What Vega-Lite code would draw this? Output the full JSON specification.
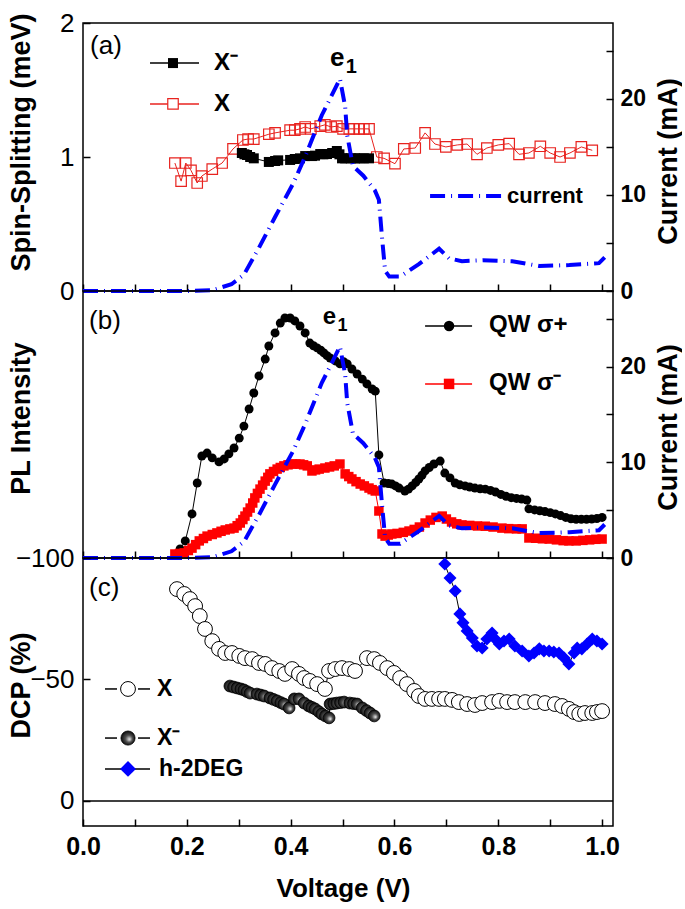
{
  "$schema": "https://vega.github.io/schema/vega-lite/v6.json",
  "background": "white",
  "padding": {"left": 6, "top": 9, "right": 0, "bottom": 5},
  "bounds": "flush",
  "spacing": 0,
  "config": {
    "font": "Liberation Sans",
    "view": {"stroke": "#000", "strokeWidth": 1.5},
    "axis": {"domain": false, "grid": false, "tickColor": "#000", "tickWidth": 1.5, "labelColor": "#000", "titleColor": "#000", "labelFont": "Liberation Sans", "titleFont": "Liberation Sans", "labelFlush": false, "labelOverlap": false, "labelBound": false},
    "text": {"font": "Liberation Sans", "color": "#000"}
  },
  "resolve": {"scale": {"x": "independent", "y": "independent"}},
  "datasets": {
    "one": [{"k": 1}],
    "cur": [
      {"V": 0, "y": 0}, {"V": 0.1, "y": 0}, {"V": 0.2, "y": 0}, {"V": 0.25, "y": 0.1}, {"V": 0.286, "y": 0.7}, {"V": 0.31, "y": 1.7}, {"V": 0.339, "y": 4.5}, {"V": 0.37, "y": 7.7}, {"V": 0.405, "y": 11.2}, {"V": 0.428, "y": 14.0}, {"V": 0.46, "y": 18.3}, {"V": 0.474, "y": 19.8}, {"V": 0.495, "y": 22.1}, {"V": 0.505, "y": 19.2}, {"V": 0.509, "y": 16.2}, {"V": 0.52, "y": 13.0}, {"V": 0.54, "y": 12.0}, {"V": 0.562, "y": 10.5}, {"V": 0.57, "y": 9.5}, {"V": 0.576, "y": 5.6}, {"V": 0.582, "y": 2.1}, {"V": 0.59, "y": 1.5}, {"V": 0.611, "y": 1.5}, {"V": 0.647, "y": 2.8}, {"V": 0.686, "y": 4.4}, {"V": 0.705, "y": 3.4}, {"V": 0.73, "y": 3.1}, {"V": 0.77, "y": 3.2}, {"V": 0.827, "y": 3.1}, {"V": 0.879, "y": 2.6}, {"V": 0.937, "y": 2.7}, {"V": 0.994, "y": 2.9}, {"V": 1.005, "y": 3.5}
    ],
    "aX": [
      {"V": 0.177, "y": 0.955}, {"V": 0.189, "y": 0.82}, {"V": 0.198, "y": 0.955}, {"V": 0.208, "y": 0.9}, {"V": 0.22, "y": 0.806}, {"V": 0.229, "y": 0.858}, {"V": 0.249, "y": 0.91}, {"V": 0.268, "y": 0.955}, {"V": 0.289, "y": 1.06}, {"V": 0.308, "y": 1.127}, {"V": 0.318, "y": 1.134}, {"V": 0.329, "y": 1.134}, {"V": 0.358, "y": 1.17}, {"V": 0.37, "y": 1.18}, {"V": 0.399, "y": 1.2}, {"V": 0.408, "y": 1.2}, {"V": 0.418, "y": 1.21}, {"V": 0.428, "y": 1.224}, {"V": 0.439, "y": 1.21}, {"V": 0.457, "y": 1.23}, {"V": 0.466, "y": 1.24}, {"V": 0.478, "y": 1.224}, {"V": 0.489, "y": 1.23}, {"V": 0.501, "y": 1.21}, {"V": 0.513, "y": 1.21}, {"V": 0.522, "y": 1.21}, {"V": 0.532, "y": 1.21}, {"V": 0.541, "y": 1.21}, {"V": 0.551, "y": 1.21}, {"V": 0.566, "y": 1.0}, {"V": 0.58, "y": 0.99}, {"V": 0.601, "y": 0.95}, {"V": 0.618, "y": 1.06}, {"V": 0.64, "y": 1.067}, {"V": 0.659, "y": 1.18}, {"V": 0.678, "y": 1.097}, {"V": 0.699, "y": 1.075}, {"V": 0.721, "y": 1.09}, {"V": 0.74, "y": 1.097}, {"V": 0.759, "y": 1.02}, {"V": 0.778, "y": 1.067}, {"V": 0.8, "y": 1.09}, {"V": 0.821, "y": 1.1}, {"V": 0.84, "y": 1.02}, {"V": 0.859, "y": 1.03}, {"V": 0.881, "y": 1.08}, {"V": 0.9, "y": 1.03}, {"V": 0.919, "y": 1.0}, {"V": 0.938, "y": 1.03}, {"V": 0.96, "y": 1.075}, {"V": 0.981, "y": 1.05}
    ],
    "aXm": [
      {"V": 0.306, "y": 1.03}, {"V": 0.311, "y": 1.02}, {"V": 0.316, "y": 1.015}, {"V": 0.322, "y": 1.0}, {"V": 0.329, "y": 0.99}, {"V": 0.358, "y": 0.963}, {"V": 0.37, "y": 0.97}, {"V": 0.376, "y": 0.975}, {"V": 0.399, "y": 0.978}, {"V": 0.408, "y": 0.985}, {"V": 0.418, "y": 0.99}, {"V": 0.428, "y": 1.007}, {"V": 0.441, "y": 1.007}, {"V": 0.447, "y": 1.01}, {"V": 0.457, "y": 1.022}, {"V": 0.463, "y": 1.02}, {"V": 0.47, "y": 1.022}, {"V": 0.48, "y": 1.03}, {"V": 0.489, "y": 1.045}, {"V": 0.494, "y": 1.02}, {"V": 0.499, "y": 0.99}, {"V": 0.505, "y": 0.99}, {"V": 0.516, "y": 0.99}, {"V": 0.524, "y": 0.99}, {"V": 0.532, "y": 0.99}, {"V": 0.541, "y": 0.99}, {"V": 0.551, "y": 0.99}
    ],
    "bP": [
      {"V": 0.187, "y": 3.4}, {"V": 0.197, "y": 6.4}, {"V": 0.21, "y": 16.5}, {"V": 0.22, "y": 28.1}, {"V": 0.229, "y": 38.2}, {"V": 0.239, "y": 39.3}, {"V": 0.249, "y": 37.5}, {"V": 0.262, "y": 36.0}, {"V": 0.272, "y": 37.1}, {"V": 0.281, "y": 39.0}, {"V": 0.291, "y": 41.2}, {"V": 0.301, "y": 44.9}, {"V": 0.31, "y": 49.4}, {"V": 0.32, "y": 55.8}, {"V": 0.329, "y": 61.8}, {"V": 0.339, "y": 68.2}, {"V": 0.351, "y": 74.5}, {"V": 0.358, "y": 79.4}, {"V": 0.37, "y": 84.3}, {"V": 0.38, "y": 88.0}, {"V": 0.389, "y": 89.9}, {"V": 0.399, "y": 89.9}, {"V": 0.408, "y": 88.8}, {"V": 0.418, "y": 86.9}, {"V": 0.428, "y": 84.3}, {"V": 0.437, "y": 80.5}, {"V": 0.444, "y": 79.5}, {"V": 0.451, "y": 78.7}, {"V": 0.458, "y": 77.8}, {"V": 0.464, "y": 76.8}, {"V": 0.47, "y": 75.8}, {"V": 0.476, "y": 74.9}, {"V": 0.486, "y": 73.8}, {"V": 0.495, "y": 72.7}, {"V": 0.502, "y": 73.5}, {"V": 0.509, "y": 72.7}, {"V": 0.518, "y": 70.8}, {"V": 0.528, "y": 68.9}, {"V": 0.538, "y": 67.0}, {"V": 0.547, "y": 65.2}, {"V": 0.557, "y": 63.3}, {"V": 0.563, "y": 62.5}, {"V": 0.57, "y": 38.6}, {"V": 0.58, "y": 28.1}, {"V": 0.588, "y": 27.9}, {"V": 0.595, "y": 27.7}, {"V": 0.602, "y": 27.0}, {"V": 0.609, "y": 26.2}, {"V": 0.62, "y": 25.1}, {"V": 0.627, "y": 25.8}, {"V": 0.634, "y": 27.0}, {"V": 0.641, "y": 28.3}, {"V": 0.647, "y": 29.6}, {"V": 0.653, "y": 31.0}, {"V": 0.659, "y": 32.6}, {"V": 0.667, "y": 33.9}, {"V": 0.676, "y": 35.2}, {"V": 0.688, "y": 36.3}, {"V": 0.697, "y": 31.8}, {"V": 0.707, "y": 30.0}, {"V": 0.717, "y": 28.1}, {"V": 0.726, "y": 27.4}, {"V": 0.736, "y": 27.0}, {"V": 0.745, "y": 26.6}, {"V": 0.755, "y": 26.2}, {"V": 0.765, "y": 25.9}, {"V": 0.775, "y": 25.8}, {"V": 0.785, "y": 25.3}, {"V": 0.795, "y": 24.7}, {"V": 0.805, "y": 23.8}, {"V": 0.815, "y": 23.1}, {"V": 0.825, "y": 22.6}, {"V": 0.835, "y": 22.3}, {"V": 0.845, "y": 22.1}, {"V": 0.855, "y": 21.7}, {"V": 0.859, "y": 18.4}, {"V": 0.87, "y": 18.0}, {"V": 0.88, "y": 17.7}, {"V": 0.89, "y": 17.4}, {"V": 0.9, "y": 17.0}, {"V": 0.91, "y": 16.5}, {"V": 0.92, "y": 15.9}, {"V": 0.93, "y": 15.2}, {"V": 0.94, "y": 14.7}, {"V": 0.95, "y": 14.5}, {"V": 0.96, "y": 14.5}, {"V": 0.97, "y": 14.5}, {"V": 0.98, "y": 14.6}, {"V": 0.99, "y": 14.8}, {"V": 1.0, "y": 15.2}
    ],
    "bM": [
      {"V": 0.177, "y": 1.5}, {"V": 0.186, "y": 1.7}, {"V": 0.195, "y": 1.9}, {"V": 0.203, "y": 2.8}, {"V": 0.21, "y": 3.7}, {"V": 0.217, "y": 5.0}, {"V": 0.224, "y": 6.4}, {"V": 0.232, "y": 7.3}, {"V": 0.239, "y": 8.2}, {"V": 0.249, "y": 8.8}, {"V": 0.258, "y": 9.4}, {"V": 0.266, "y": 10.0}, {"V": 0.274, "y": 10.5}, {"V": 0.283, "y": 10.9}, {"V": 0.291, "y": 11.2}, {"V": 0.297, "y": 12.1}, {"V": 0.303, "y": 13.1}, {"V": 0.308, "y": 14.4}, {"V": 0.312, "y": 15.7}, {"V": 0.317, "y": 17.2}, {"V": 0.322, "y": 18.7}, {"V": 0.327, "y": 20.6}, {"V": 0.331, "y": 22.5}, {"V": 0.336, "y": 24.2}, {"V": 0.341, "y": 25.8}, {"V": 0.346, "y": 27.3}, {"V": 0.351, "y": 28.8}, {"V": 0.356, "y": 30.2}, {"V": 0.36, "y": 31.5}, {"V": 0.367, "y": 32.4}, {"V": 0.374, "y": 33.3}, {"V": 0.38, "y": 33.9}, {"V": 0.387, "y": 34.5}, {"V": 0.395, "y": 34.9}, {"V": 0.403, "y": 35.2}, {"V": 0.41, "y": 35.2}, {"V": 0.418, "y": 35.2}, {"V": 0.425, "y": 34.9}, {"V": 0.432, "y": 34.5}, {"V": 0.441, "y": 32.6}, {"V": 0.448, "y": 33.0}, {"V": 0.455, "y": 33.3}, {"V": 0.466, "y": 33.7}, {"V": 0.475, "y": 34.1}, {"V": 0.484, "y": 34.5}, {"V": 0.495, "y": 35.2}, {"V": 0.505, "y": 31.5}, {"V": 0.512, "y": 30.5}, {"V": 0.518, "y": 29.6}, {"V": 0.526, "y": 28.6}, {"V": 0.534, "y": 27.7}, {"V": 0.542, "y": 27.0}, {"V": 0.551, "y": 26.2}, {"V": 0.557, "y": 25.6}, {"V": 0.563, "y": 25.1}, {"V": 0.57, "y": 17.6}, {"V": 0.576, "y": 9.0}, {"V": 0.582, "y": 8.2}, {"V": 0.588, "y": 8.6}, {"V": 0.595, "y": 9.0}, {"V": 0.605, "y": 9.2}, {"V": 0.617, "y": 9.6}, {"V": 0.628, "y": 10.1}, {"V": 0.638, "y": 10.7}, {"V": 0.648, "y": 11.6}, {"V": 0.659, "y": 13.1}, {"V": 0.669, "y": 14.2}, {"V": 0.68, "y": 15.2}, {"V": 0.692, "y": 15.7}, {"V": 0.7, "y": 14.6}, {"V": 0.71, "y": 13.5}, {"V": 0.72, "y": 12.8}, {"V": 0.73, "y": 12.4}, {"V": 0.745, "y": 12.2}, {"V": 0.76, "y": 12.0}, {"V": 0.775, "y": 11.9}, {"V": 0.79, "y": 11.6}, {"V": 0.807, "y": 11.2}, {"V": 0.82, "y": 11.0}, {"V": 0.835, "y": 10.9}, {"V": 0.846, "y": 10.9}, {"V": 0.859, "y": 7.5}, {"V": 0.872, "y": 7.4}, {"V": 0.885, "y": 7.2}, {"V": 0.898, "y": 7.1}, {"V": 0.912, "y": 6.8}, {"V": 0.925, "y": 6.5}, {"V": 0.936, "y": 6.4}, {"V": 0.95, "y": 6.4}, {"V": 0.963, "y": 6.6}, {"V": 0.976, "y": 6.8}, {"V": 0.988, "y": 7.0}, {"V": 1.0, "y": 7.1}
    ],
    "cX": [
      {"V": 0.181, "y": -87.2}, {"V": 0.195, "y": -85.2}, {"V": 0.206, "y": -83.1}, {"V": 0.216, "y": -80.2}, {"V": 0.225, "y": -76.1}, {"V": 0.235, "y": -70.8}, {"V": 0.249, "y": -65.8}, {"V": 0.262, "y": -62.6}, {"V": 0.274, "y": -60.9}, {"V": 0.287, "y": -60.9}, {"V": 0.301, "y": -59.7}, {"V": 0.312, "y": -58.8}, {"V": 0.326, "y": -58.4}, {"V": 0.339, "y": -56.8}, {"V": 0.351, "y": -56.4}, {"V": 0.364, "y": -54.7}, {"V": 0.378, "y": -53.5}, {"V": 0.389, "y": -52.3}, {"V": 0.403, "y": -54.3}, {"V": 0.416, "y": -52.3}, {"V": 0.426, "y": -50.6}, {"V": 0.437, "y": -49.4}, {"V": 0.451, "y": -48.1}, {"V": 0.466, "y": -46.1}, {"V": 0.474, "y": -53.5}, {"V": 0.486, "y": -54.3}, {"V": 0.499, "y": -54.7}, {"V": 0.513, "y": -54.3}, {"V": 0.524, "y": -53.5}, {"V": 0.547, "y": -58.8}, {"V": 0.561, "y": -58.4}, {"V": 0.572, "y": -56.8}, {"V": 0.586, "y": -54.7}, {"V": 0.599, "y": -52.7}, {"V": 0.611, "y": -50.6}, {"V": 0.624, "y": -48.1}, {"V": 0.638, "y": -45.3}, {"V": 0.647, "y": -43.2}, {"V": 0.659, "y": -42.0}, {"V": 0.672, "y": -42.0}, {"V": 0.686, "y": -42.0}, {"V": 0.697, "y": -42.0}, {"V": 0.711, "y": -41.6}, {"V": 0.724, "y": -40.7}, {"V": 0.74, "y": -39.9}, {"V": 0.755, "y": -39.5}, {"V": 0.769, "y": -40.3}, {"V": 0.788, "y": -40.7}, {"V": 0.802, "y": -41.2}, {"V": 0.817, "y": -40.7}, {"V": 0.832, "y": -40.7}, {"V": 0.852, "y": -40.7}, {"V": 0.871, "y": -40.7}, {"V": 0.89, "y": -40.3}, {"V": 0.909, "y": -39.9}, {"V": 0.923, "y": -39.1}, {"V": 0.936, "y": -37.9}, {"V": 0.946, "y": -36.6}, {"V": 0.956, "y": -35.8}, {"V": 0.967, "y": -36.2}, {"V": 0.981, "y": -36.2}, {"V": 0.99, "y": -36.6}, {"V": 1.0, "y": -37.0}
    ],
    "cXm": [
      {"V": 0.283, "y": -47.3}, {"V": 0.29, "y": -46.9}, {"V": 0.297, "y": -46.5}, {"V": 0.304, "y": -46.1}, {"V": 0.31, "y": -45.7}, {"V": 0.316, "y": -45.0}, {"V": 0.322, "y": -44.4}, {"V": 0.335, "y": -44.0}, {"V": 0.342, "y": -43.6}, {"V": 0.349, "y": -43.2}, {"V": 0.36, "y": -42.4}, {"V": 0.367, "y": -41.8}, {"V": 0.374, "y": -41.2}, {"V": 0.381, "y": -40.5}, {"V": 0.387, "y": -39.9}, {"V": 0.397, "y": -38.3}, {"V": 0.407, "y": -42.0}, {"V": 0.416, "y": -42.0}, {"V": 0.426, "y": -40.3}, {"V": 0.435, "y": -39.1}, {"V": 0.441, "y": -38.5}, {"V": 0.447, "y": -37.9}, {"V": 0.454, "y": -36.8}, {"V": 0.46, "y": -35.8}, {"V": 0.467, "y": -35.0}, {"V": 0.474, "y": -34.2}, {"V": 0.476, "y": -39.9}, {"V": 0.483, "y": -40.1}, {"V": 0.489, "y": -40.3}, {"V": 0.496, "y": -40.5}, {"V": 0.503, "y": -40.7}, {"V": 0.514, "y": -40.3}, {"V": 0.521, "y": -40.1}, {"V": 0.528, "y": -39.9}, {"V": 0.538, "y": -38.3}, {"V": 0.546, "y": -37.2}, {"V": 0.553, "y": -36.2}, {"V": 0.561, "y": -35.0}
    ],
    "cH": [
      {"V": 0.697, "y": -97.5}, {"V": 0.707, "y": -91.8}, {"V": 0.717, "y": -86.4}, {"V": 0.726, "y": -77.0}, {"V": 0.732, "y": -73.3}, {"V": 0.74, "y": -70.0}, {"V": 0.75, "y": -67.1}, {"V": 0.759, "y": -63.8}, {"V": 0.769, "y": -63.0}, {"V": 0.778, "y": -66.7}, {"V": 0.788, "y": -69.1}, {"V": 0.795, "y": -66.5}, {"V": 0.802, "y": -64.6}, {"V": 0.811, "y": -65.8}, {"V": 0.821, "y": -66.7}, {"V": 0.832, "y": -63.8}, {"V": 0.846, "y": -61.7}, {"V": 0.859, "y": -59.7}, {"V": 0.869, "y": -60.9}, {"V": 0.879, "y": -62.6}, {"V": 0.888, "y": -61.7}, {"V": 0.898, "y": -61.7}, {"V": 0.907, "y": -61.3}, {"V": 0.917, "y": -60.9}, {"V": 0.927, "y": -58.8}, {"V": 0.936, "y": -56.4}, {"V": 0.946, "y": -60.9}, {"V": 0.952, "y": -63.0}, {"V": 0.961, "y": -62.6}, {"V": 0.971, "y": -64.6}, {"V": 0.981, "y": -66.7}, {"V": 0.99, "y": -65.8}, {"V": 1.0, "y": -64.6}
    ]
  },
  "vconcat": [
    {
      "width": 530, "height": 268,
      "layer": [
        {
          "layer": [
            {
              "encoding": {
                "x": {"field": "V", "type": "quantitative", "title": null, "scale": {"domain": [0, 1.021], "nice": false, "zero": false},
                  "axis": {"values": [0, 0.1, 0.2, 0.3, 0.4, 0.5, 0.6, 0.7, 0.8, 0.9, 1.0], "tickSize": -7, "labels": false, "title": null}},
                "y": {"field": "y", "type": "quantitative", "scale": {"domain": [0, 2], "nice": false, "zero": false},
                  "axis": {"orient": "left", "values": [0, 1, 2], "format": ".0f", "tickSize": -7, "labelFontSize": 26, "labelFontWeight": "normal", "labelPadding": 16, "labelBaseline": "middle",
                    "title": "Spin-Splitting (meV)", "titleFontSize": 27, "titleFontWeight": "bold", "titleAngle": 270, "titleX": -54, "titleY": 119, "titleBaseline": "alphabetic"}}
              },
              "layer": [
                {"data": {"name": "aX"}, "mark": {"type": "line", "color": "#e8231f", "strokeWidth": 1}},
                {"data": {"name": "aX"}, "mark": {"type": "point", "shape": "square", "filled": false, "stroke": "#e8231f", "strokeWidth": 1.2, "size": 110, "opacity": 1}},
                {"data": {"name": "aXm"}, "mark": {"type": "line", "color": "#000", "strokeWidth": 1}},
                {"data": {"name": "aXm"}, "mark": {"type": "point", "shape": "square", "filled": true, "color": "#000", "size": 100, "opacity": 1}}
              ]
            },
            {
              "data": {"name": "one"},
              "layer": [
                {"mark": {"type": "text", "text": "(a)", "fontSize": 26, "align": "left", "baseline": "middle"},
                  "encoding": {"x": {"datum": 0.0135}, "y": {"datum": 1.828}}},
                {"mark": {"type": "rule", "color": "#000", "strokeWidth": 1.5},
                  "encoding": {"x": {"datum": 0.1291}, "x2": {"datum": 0.2235}, "y": {"datum": 1.701}}},
                {"mark": {"type": "point", "shape": "square", "filled": true, "color": "#000", "size": 100, "opacity": 1},
                  "encoding": {"x": {"datum": 0.1734}, "y": {"datum": 1.701}}},
                {"mark": {"type": "text", "text": "X⁻", "fontSize": 24, "fontWeight": "bold", "align": "left", "baseline": "middle"},
                  "encoding": {"x": {"datum": 0.2524}, "y": {"datum": 1.701}}},
                {"mark": {"type": "rule", "color": "#e8231f", "strokeWidth": 1.5},
                  "encoding": {"x": {"datum": 0.1291}, "x2": {"datum": 0.2235}, "y": {"datum": 1.396}}},
                {"mark": {"type": "point", "shape": "square", "filled": true, "fill": "white", "stroke": "#e8231f", "strokeWidth": 1.2, "size": 110, "opacity": 1},
                  "encoding": {"x": {"datum": 0.1734}, "y": {"datum": 1.396}}},
                {"mark": {"type": "text", "text": "X", "fontSize": 24, "fontWeight": "bold", "align": "left", "baseline": "middle"},
                  "encoding": {"x": {"datum": 0.2524}, "y": {"datum": 1.396}}},
                {"mark": {"type": "text", "text": "e", "fontSize": 26, "fontWeight": "bold", "align": "left", "baseline": "alphabetic"},
                  "encoding": {"x": {"datum": 0.476}, "y": {"datum": 1.679}}},
                {"mark": {"type": "text", "text": "1", "fontSize": 20, "fontWeight": "bold", "align": "left", "baseline": "alphabetic"},
                  "encoding": {"x": {"datum": 0.506}, "y": {"datum": 1.627}}},
                {"mark": {"type": "rule", "color": "#0000ff", "strokeWidth": 4, "strokeDash": [15, 6, 1, 6]},
                  "encoding": {"x": {"datum": 0.6686}, "x2": {"datum": 0.817}, "y": {"datum": 0.709}}},
                {"mark": {"type": "text", "text": "current", "fontSize": 22, "fontWeight": "bold", "align": "left", "baseline": "middle"},
                  "encoding": {"x": {"datum": 0.817}, "y": {"datum": 0.709}}}
              ]
            }
          ]
        },
        {
          "data": {"name": "cur"},
          "mark": {"type": "line", "color": "#0000ff", "strokeWidth": 4, "strokeDash": [15, 6, 1, 6]},
          "encoding": {
            "x": {"field": "V", "type": "quantitative", "title": null, "scale": {"domain": [0, 1.021], "nice": false, "zero": false}},
            "y": {"field": "y", "type": "quantitative", "scale": {"domain": [0, 27.9], "nice": false, "zero": false},
              "axis": {"orient": "right", "values": [0, 5, 10, 15, 20, 25], "labelExpr": "datum.value % 10 == 0 ? datum.label : ''", "tickSize": -7, "labelFontSize": 23, "labelFontWeight": "bold", "labelPadding": 14, "labelBaseline": "middle",
                "title": "Current (mA)", "titleFontSize": 27, "titleFontWeight": "bold", "titleAngle": 270, "titleX": 63, "titleY": 138, "titleBaseline": "alphabetic"}}
          }
        }
      ],
      "resolve": {"scale": {"y": "independent"}}
    },
    {
      "width": 530, "height": 267,
      "layer": [
        {
          "layer": [
            {
              "encoding": {
                "x": {"field": "V", "type": "quantitative", "title": null, "scale": {"domain": [0, 1.021], "nice": false, "zero": false},
                  "axis": {"values": [0, 0.1, 0.2, 0.3, 0.4, 0.5, 0.6, 0.7, 0.8, 0.9, 1.0], "tickSize": -7, "labels": false, "title": null}},
                "y": {"field": "y", "type": "quantitative", "scale": {"domain": [0, 100], "nice": false, "zero": false},
                  "axis": {"orient": "left", "labels": false, "ticks": false,
                    "title": "PL Intensity", "titleFontSize": 27, "titleFontWeight": "bold", "titleAngle": 270, "titleX": -54, "titleY": 127, "titleBaseline": "alphabetic"}}
              },
              "layer": [
                {"data": {"name": "bP"}, "mark": {"type": "line", "color": "#000", "strokeWidth": 1}},
                {"data": {"name": "bP"}, "mark": {"type": "point", "shape": "circle", "filled": true, "color": "#000", "size": 80, "opacity": 1}},
                {"data": {"name": "bM"}, "mark": {"type": "line", "color": "#ff0000", "strokeWidth": 1}},
                {"data": {"name": "bM"}, "mark": {"type": "point", "shape": "square", "filled": true, "color": "#ff0000", "size": 90, "opacity": 1}}
              ]
            },
            {
              "data": {"name": "one"},
              "layer": [
                {"mark": {"type": "text", "text": "(b)", "fontSize": 26, "align": "left", "baseline": "middle"},
                  "encoding": {"x": {"datum": 0.0116}, "y": {"datum": 88.8}}},
                {"mark": {"type": "rule", "color": "#000", "strokeWidth": 1.5},
                  "encoding": {"x": {"datum": 0.659}, "x2": {"datum": 0.7495}, "y": {"datum": 86.9}}},
                {"mark": {"type": "point", "shape": "circle", "filled": true, "color": "#000", "size": 110, "opacity": 1},
                  "encoding": {"x": {"datum": 0.7052}, "y": {"datum": 86.9}}},
                {"mark": {"type": "text", "text": "QW σ+", "fontSize": 24, "fontWeight": "bold", "align": "left", "baseline": "middle"},
                  "encoding": {"x": {"datum": 0.7823}, "y": {"datum": 87.3}}},
                {"mark": {"type": "rule", "color": "#ff0000", "strokeWidth": 1.5},
                  "encoding": {"x": {"datum": 0.659}, "x2": {"datum": 0.7495}, "y": {"datum": 65.2}}},
                {"mark": {"type": "point", "shape": "square", "filled": true, "color": "#ff0000", "size": 110, "opacity": 1},
                  "encoding": {"x": {"datum": 0.7052}, "y": {"datum": 65.2}}},
                {"mark": {"type": "text", "text": "QW σ⁻", "fontSize": 24, "fontWeight": "bold", "align": "left", "baseline": "middle"},
                  "encoding": {"x": {"datum": 0.7823}, "y": {"datum": 65.5}}},
                {"mark": {"type": "text", "text": "e", "fontSize": 24, "fontWeight": "bold", "align": "left", "baseline": "alphabetic"},
                  "encoding": {"x": {"datum": 0.462}, "y": {"datum": 87.6}}},
                {"mark": {"type": "text", "text": "1", "fontSize": 18, "fontWeight": "bold", "align": "left", "baseline": "alphabetic"},
                  "encoding": {"x": {"datum": 0.4905}, "y": {"datum": 85.0}}}
              ]
            }
          ]
        },
        {
          "data": {"name": "cur"},
          "mark": {"type": "line", "color": "#0000ff", "strokeWidth": 4, "strokeDash": [15, 6, 1, 6]},
          "encoding": {
            "x": {"field": "V", "type": "quantitative", "title": null, "scale": {"domain": [0, 1.021], "nice": false, "zero": false}},
            "y": {"field": "y", "type": "quantitative", "scale": {"domain": [0, 27.9], "nice": false, "zero": false},
              "axis": {"orient": "right", "values": [0, 5, 10, 15, 20, 25], "labelExpr": "datum.value % 10 == 0 ? datum.label : ''", "tickSize": -7, "labelFontSize": 23, "labelFontWeight": "bold", "labelPadding": 14, "labelBaseline": "middle",
                "title": "Current (mA)", "titleFontSize": 27, "titleFontWeight": "bold", "titleAngle": 270, "titleX": 63, "titleY": 136, "titleBaseline": "alphabetic"}}
          }
        }
      ],
      "resolve": {"scale": {"y": "independent"}}
    },
    {
      "width": 530, "height": 268,
      "layer": [
        {
          "encoding": {
            "x": {"field": "V", "type": "quantitative", "title": null, "scale": {"domain": [0, 1.021], "nice": false, "zero": false},
              "axis": {"values": [0, 0.1, 0.2, 0.3, 0.4, 0.5, 0.6, 0.7, 0.8, 0.9, 1.0], "tickSize": -7,
                "labelExpr": "round(datum.value*10) % 2 == 0 ? format(datum.value, '.1f') : ''", "labelFontSize": 25, "labelFontWeight": "bold", "labelBaseline": "alphabetic", "labelPadding": 35,
                "title": "Voltage (V)", "titleFontSize": 26, "titleFontWeight": "bold", "titleX": 260, "titleY": 70, "titleBaseline": "alphabetic"}},
            "y": {"field": "y", "type": "quantitative", "scale": {"domain": [-100, 10.3], "reverse": true, "nice": false, "zero": false},
              "axis": {"orient": "left", "values": [-100, -50, 0], "tickSize": -7, "labelFontSize": 26, "labelFontWeight": "normal", "labelPadding": 16, "labelBaseline": "middle",
                "title": "DCP (%)", "titleFontSize": 27, "titleFontWeight": "bold", "titleAngle": 270, "titleX": -54, "titleY": 127, "titleBaseline": "alphabetic"}}
          },
          "layer": [
            {"data": {"name": "cX"}, "mark": {"type": "line", "color": "#000", "strokeWidth": 1}},
            {"data": {"name": "cX"}, "mark": {"type": "point", "shape": "circle", "filled": true, "fill": "white", "stroke": "#000", "strokeWidth": 1, "size": 220, "opacity": 1}},
            {"data": {"name": "cXm"}, "mark": {"type": "line", "color": "#000", "strokeWidth": 1}},
            {"data": {"name": "cXm"}, "mark": {"type": "point", "shape": "circle", "filled": true, "stroke": "#000", "strokeWidth": 0.8, "size": 140, "opacity": 1,
              "fill": {"gradient": "radial", "x1": 0.62, "y1": 0.6, "r1": 0, "x2": 0.5, "y2": 0.5, "r2": 0.55, "stops": [{"offset": 0, "color": "#f0f0f0"}, {"offset": 0.45, "color": "#505050"}, {"offset": 1, "color": "#000000"}]}}},
            {"data": {"name": "cH"}, "mark": {"type": "line", "color": "#000", "strokeWidth": 1}},
            {"data": {"name": "cH"}, "mark": {"type": "point", "shape": "diamond", "filled": true, "color": "#0000ff", "size": 170, "opacity": 1}}
          ]
        },
        {
          "data": {"name": "one"},
          "layer": [
            {"mark": {"type": "rule", "color": "#000", "strokeWidth": 1.5}, "encoding": {"y": {"datum": 0}}},
            {"mark": {"type": "text", "text": "(c)", "fontSize": 26, "align": "left", "baseline": "middle"},
              "encoding": {"x": {"datum": 0.0116}, "y": {"datum": -87.7}}},
            {"mark": {"type": "rule", "color": "#000", "strokeWidth": 1.5},
              "encoding": {"x": {"datum": 0.0424}, "x2": {"datum": 0.0655}, "y": {"datum": -46.1}}},
            {"mark": {"type": "rule", "color": "#000", "strokeWidth": 1.5},
              "encoding": {"x": {"datum": 0.106}, "x2": {"datum": 0.1291}, "y": {"datum": -46.1}}},
            {"mark": {"type": "point", "shape": "circle", "filled": true, "fill": "white", "stroke": "#000", "strokeWidth": 1, "size": 220, "opacity": 1},
              "encoding": {"x": {"datum": 0.0867}, "y": {"datum": -46.1}}},
            {"mark": {"type": "text", "text": "X", "fontSize": 23, "fontWeight": "bold", "align": "left", "baseline": "middle"},
              "encoding": {"x": {"datum": 0.1426}, "y": {"datum": -46.1}}},
            {"mark": {"type": "rule", "color": "#000", "strokeWidth": 1.5},
              "encoding": {"x": {"datum": 0.0424}, "x2": {"datum": 0.0655}, "y": {"datum": -25.9}}},
            {"mark": {"type": "rule", "color": "#000", "strokeWidth": 1.5},
              "encoding": {"x": {"datum": 0.106}, "x2": {"datum": 0.1291}, "y": {"datum": -25.9}}},
            {"mark": {"type": "point", "shape": "circle", "filled": true, "stroke": "#000", "strokeWidth": 0.8, "size": 200, "opacity": 1,
              "fill": {"gradient": "radial", "x1": 0.62, "y1": 0.6, "r1": 0, "x2": 0.5, "y2": 0.5, "r2": 0.55, "stops": [{"offset": 0, "color": "#f0f0f0"}, {"offset": 0.45, "color": "#505050"}, {"offset": 1, "color": "#000000"}]}},
              "encoding": {"x": {"datum": 0.0867}, "y": {"datum": -25.9}}},
            {"mark": {"type": "text", "text": "X⁻", "fontSize": 23, "fontWeight": "bold", "align": "left", "baseline": "middle"},
              "encoding": {"x": {"datum": 0.1426}, "y": {"datum": -25.9}}},
            {"mark": {"type": "rule", "color": "#000", "strokeWidth": 1.5},
              "encoding": {"x": {"datum": 0.0424}, "x2": {"datum": 0.1291}, "y": {"datum": -13.2}}},
            {"mark": {"type": "point", "shape": "diamond", "filled": true, "color": "#0000ff", "size": 250, "opacity": 1},
              "encoding": {"x": {"datum": 0.0867}, "y": {"datum": -13.2}}},
            {"mark": {"type": "text", "text": "h-2DEG", "fontSize": 23, "fontWeight": "bold", "align": "left", "baseline": "middle"},
              "encoding": {"x": {"datum": 0.1464}, "y": {"datum": -13.2}}}
          ]
        }
      ]
    }
  ]
}
